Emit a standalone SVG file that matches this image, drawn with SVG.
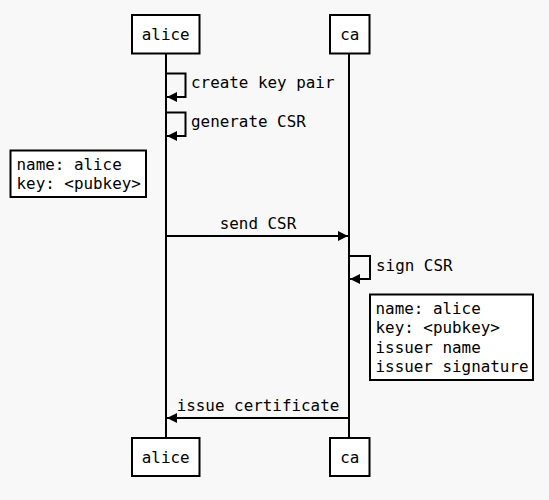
<svg xmlns="http://www.w3.org/2000/svg" width="549" height="500" viewBox="0 0 549 500">
<style>
text{font-family:"DejaVu Sans Mono","Liberation Mono",monospace;font-size:15.9px;fill:#000}
.box{fill:#fff;stroke:#000;stroke-width:2}
.ln{fill:none;stroke:#000;stroke-width:2}
</style>
<defs>
<marker id="ah" viewBox="0 0 10 10" refX="10" refY="5" markerWidth="10" markerHeight="10" markerUnits="userSpaceOnUse" orient="auto">
<path d="M0,0 L10,5 L0,10 z" fill="#000"/>
</marker>
</defs>
<rect width="549" height="500" fill="#f8f8f8"/>
<g id="connectors">
<line class="ln" x1="166" y1="54" x2="166" y2="438"/>
<line class="ln" x1="349" y1="54" x2="349" y2="438"/>
<path class="ln" d="M166,73.5 H185.5 V97 H167" marker-end="url(#ah)"/>
<path class="ln" d="M166,112.5 H185.5 V136 H167" marker-end="url(#ah)"/>
<line class="ln" x1="166" y1="236" x2="348" y2="236" marker-end="url(#ah)"/>
<path class="ln" d="M349,256 H370 V279 H350" marker-end="url(#ah)"/>
<line class="ln" x1="349" y1="418" x2="167" y2="418" marker-end="url(#ah)"/>
<text x="191" y="88">create key pair</text>
<text x="191" y="127">generate CSR</text>
<text x="258" y="228.5" text-anchor="middle">send CSR</text>
<text x="376" y="270.5">sign CSR</text>
<text x="258" y="410.5" text-anchor="middle">issue certificate</text>
</g>
<g id="alice-top"><rect class="box" x="132" y="15" width="67.5" height="38.5"/><text x="165.7" y="40" text-anchor="middle">alice</text></g>
<g id="ca-top"><rect class="box" x="330" y="15" width="39.5" height="38.5"/><text x="349.7" y="40" text-anchor="middle">ca</text></g>
<g id="alice-bottom"><rect class="box" x="132" y="438" width="67.5" height="38"/><text x="165.7" y="463" text-anchor="middle">alice</text></g>
<g id="ca-bottom"><rect class="box" x="330" y="438" width="39.5" height="38"/><text x="349.7" y="463" text-anchor="middle">ca</text></g>
<g id="note-csr"><rect class="box" x="10.5" y="150.5" width="135.5" height="46.5"/><text x="16.5" y="169.5">name: alice</text><text x="16.5" y="189">key: &lt;pubkey&gt;</text></g>
<g id="note-cert"><rect class="box" x="370" y="294.5" width="163" height="85.5"/><text x="375.5" y="313.5">name: alice</text><text x="375.5" y="333">key: &lt;pubkey&gt;</text><text x="375.5" y="352.5">issuer name</text><text x="375.5" y="372">issuer signature</text></g>
</svg>
